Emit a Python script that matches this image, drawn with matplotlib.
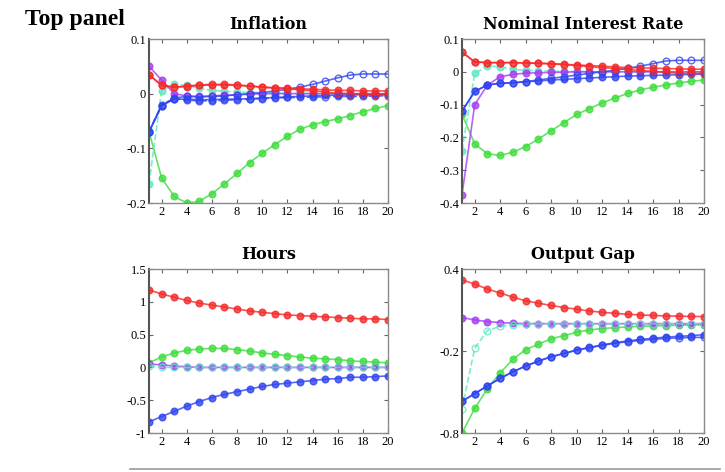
import matplotlib
matplotlib.use("Agg")
import matplotlib.pyplot as plt
import numpy as np

periods = list(range(1, 21))
xticks = [2, 4, 6, 8, 10, 12, 14, 16, 18, 20]

# ---------------- Inflation ----------------
infl_red = [0.035, 0.015, 0.012, 0.013, 0.015, 0.016, 0.016, 0.015, 0.014, 0.012,
            0.011, 0.010, 0.009, 0.008, 0.007, 0.006, 0.006, 0.005, 0.005, 0.005]
infl_red_open = [0.035, 0.015, 0.012, 0.014, 0.016, 0.017, 0.017, 0.016, 0.014, 0.012,
                 0.010, 0.009, 0.007, 0.005, 0.003, 0.001, 0.000, -0.001, -0.002, -0.002]
infl_purple = [0.050, 0.025, 0.000, -0.004, -0.005, -0.004, -0.003, -0.002, -0.001, 0.000,
               0.000, 0.000, 0.000, 0.000, 0.000, 0.000, 0.000, 0.000, 0.000, 0.000]
infl_cyan = [-0.165, 0.005, 0.018, 0.015, 0.010, 0.006, 0.004, 0.003, 0.002, 0.002,
             0.001, 0.001, 0.001, 0.000, 0.000, 0.000, 0.000, 0.000, 0.000, 0.000]
infl_green = [-0.069, -0.154, -0.188, -0.200, -0.197, -0.183, -0.165, -0.146, -0.126, -0.109,
              -0.093, -0.078, -0.065, -0.057, -0.051, -0.046, -0.040, -0.033, -0.027, -0.022]
infl_blue = [-0.070, -0.022, -0.010, -0.010, -0.011, -0.011, -0.010, -0.010, -0.009, -0.008,
             -0.007, -0.006, -0.005, -0.004, -0.003, -0.003, -0.002, -0.002, -0.002, -0.001]
infl_blue_open = [-0.070, -0.022, -0.008, -0.005, -0.006, -0.005, -0.004, -0.002, 0.000, 0.002,
                  0.005, 0.008, 0.012, 0.017, 0.023, 0.029, 0.034, 0.036, 0.036, 0.036]
infl_blue_dash = [-0.070, -0.020, -0.009, -0.012, -0.013, -0.013, -0.012, -0.011, -0.010, -0.009,
                  -0.008, -0.007, -0.007, -0.006, -0.006, -0.005, -0.005, -0.005, -0.004, -0.004]

# ---------------- Nominal Interest Rate ----------------
nir_red = [0.060, 0.030, 0.028, 0.028, 0.028, 0.027, 0.026, 0.025, 0.023, 0.021,
           0.019, 0.017, 0.015, 0.013, 0.012, 0.011, 0.010, 0.009, 0.008, 0.008]
nir_red_open = [0.060, 0.030, 0.028, 0.028, 0.028, 0.027, 0.026, 0.024, 0.022, 0.019,
                0.016, 0.013, 0.010, 0.007, 0.004, 0.001, -0.002, -0.004, -0.005, -0.005]
nir_purple = [-0.375, -0.100, -0.040, -0.015, -0.008, -0.004, -0.003, -0.002, -0.001, 0.000,
              0.000, 0.000, 0.000, 0.000, 0.000, 0.000, 0.000, 0.000, 0.000, 0.000]
nir_cyan = [-0.240, -0.005, 0.018, 0.015, 0.008, 0.004, 0.003, 0.002, 0.001, 0.001,
            0.000, 0.000, 0.000, 0.000, 0.000, 0.000, 0.000, 0.000, 0.000, 0.000]
nir_green = [-0.130, -0.220, -0.250, -0.255, -0.245, -0.228, -0.205, -0.180, -0.155, -0.130,
             -0.112, -0.095, -0.080, -0.066, -0.055, -0.047, -0.040, -0.034, -0.029, -0.025]
nir_blue = [-0.120, -0.060, -0.040, -0.035, -0.033, -0.030, -0.028, -0.025, -0.023, -0.021,
            -0.019, -0.017, -0.015, -0.013, -0.012, -0.011, -0.010, -0.009, -0.008, -0.007]
nir_blue_open = [-0.120, -0.060, -0.040, -0.035, -0.034, -0.030, -0.025, -0.020, -0.015, -0.010,
                 -0.005, 0.000, 0.005, 0.011, 0.017, 0.025, 0.033, 0.035, 0.035, 0.035]

# ---------------- Hours ----------------
hrs_red = [1.18, 1.12, 1.07, 1.02, 0.98, 0.95, 0.92, 0.89, 0.86, 0.84,
           0.82, 0.80, 0.79, 0.78, 0.77, 0.76, 0.75, 0.74, 0.74, 0.73]
hrs_green = [0.07, 0.16, 0.22, 0.26, 0.28, 0.29, 0.29, 0.27, 0.25, 0.22,
             0.20, 0.18, 0.16, 0.14, 0.13, 0.12, 0.10, 0.09, 0.08, 0.07]
hrs_purple = [0.05, 0.04, 0.02, 0.01, 0.00, 0.00, 0.00, 0.00, 0.00, 0.00,
              0.00, 0.00, 0.00, 0.00, 0.00, 0.00, 0.00, 0.00, 0.00, 0.00]
hrs_cyan = [0.02, 0.00, 0.00, 0.00, 0.00, 0.00, 0.00, 0.00, 0.00, 0.00,
            0.00, 0.00, 0.00, 0.00, 0.00, 0.00, 0.00, 0.00, 0.00, 0.00]
hrs_blue = [-0.83, -0.75, -0.67, -0.59, -0.52, -0.46, -0.41, -0.37, -0.33, -0.29,
            -0.26, -0.24, -0.22, -0.20, -0.18, -0.17, -0.15, -0.15, -0.14, -0.13]

# ---------------- Output Gap ----------------
gap_red = [0.320, 0.290, 0.253, 0.224, 0.194, 0.167, 0.150, 0.133, 0.118, 0.106,
           0.093, 0.083, 0.076, 0.069, 0.064, 0.060, 0.057, 0.055, 0.053, 0.052]
gap_purple = [0.045, 0.027, 0.015, 0.008, 0.003, 0.001, 0.000, 0.000, 0.000, 0.000,
              0.000, 0.000, 0.000, 0.000, 0.000, 0.000, 0.000, 0.000, 0.000, 0.000]
gap_cyan = [-0.622, -0.180, -0.050, -0.020, -0.008, -0.003, -0.001, 0.000, 0.000, 0.000,
            0.000, 0.000, 0.000, 0.000, 0.000, 0.000, 0.000, 0.000, 0.000, 0.000]
gap_green = [-0.800, -0.620, -0.475, -0.360, -0.260, -0.190, -0.150, -0.110, -0.088, -0.063,
             -0.046, -0.036, -0.029, -0.024, -0.019, -0.016, -0.014, -0.011, -0.009, -0.008]
gap_blue = [-0.568, -0.512, -0.455, -0.400, -0.352, -0.310, -0.274, -0.242, -0.218, -0.193,
            -0.174, -0.156, -0.139, -0.127, -0.115, -0.107, -0.098, -0.093, -0.088, -0.080]
gap_blue_open = [-0.568, -0.512, -0.455, -0.400, -0.352, -0.310, -0.274, -0.242, -0.218, -0.194,
                 -0.176, -0.159, -0.143, -0.132, -0.122, -0.115, -0.108, -0.104, -0.101, -0.100]

titles = ["Inflation", "Nominal Interest Rate", "Hours", "Output Gap"]
ylims = [(-0.2, 0.1), (-0.4, 0.1), (-1, 1.5), (-0.8, 0.4)]
yticks = [[-0.2, -0.1, 0, 0.1],
          [-0.4, -0.3, -0.2, -0.1, 0, 0.1],
          [-1, -0.5, 0, 0.5, 1, 1.5],
          [-0.8, -0.2, 0.4]]
ytick_labels = [["-0.2", "-0.1", "0", "0.1"],
                ["-0.4", "-0.3", "-0.2", "-0.1", "0", "0.1"],
                ["-1", "-0.5", "0", "0.5", "1", "1.5"],
                ["-0.8", "-0.2", "0.4"]]

RED = "#f52a2a"
GREEN = "#3fdc3f"
BLUE = "#2f44f0"
PURPLE = "#a53cf0"
CYAN = "#5ee8c0"

# (data, color, linestyle, filled)
panels = [
    [(infl_green, GREEN, "-", True), (infl_cyan, CYAN, "--", True),
     (infl_purple, PURPLE, "-", True), (infl_blue_dash, BLUE, "--", False),
     (infl_blue, BLUE, "-", True), (infl_blue_open, BLUE, "-", False),
     (infl_red_open, RED, "-", False), (infl_red, RED, "-", True)],
    [(nir_green, GREEN, "-", True), (nir_cyan, CYAN, "--", True),
     (nir_purple, PURPLE, "-", True), (nir_blue, BLUE, "-", True),
     (nir_blue_open, BLUE, "-", False), (nir_red_open, RED, "-", False),
     (nir_red, RED, "-", True)],
    [(hrs_green, GREEN, "-", True), (hrs_purple, PURPLE, "-", True),
     (hrs_cyan, CYAN, "--", False), (hrs_blue, BLUE, "-", True),
     (hrs_red, RED, "-", True)],
    [(gap_green, GREEN, "-", True), (gap_purple, PURPLE, "-", True),
     (gap_cyan, CYAN, "--", False), (gap_blue_open, BLUE, "-", False),
     (gap_blue, BLUE, "-", True), (gap_red, RED, "-", True)],
]

W, H = 725, 472
fig = plt.figure(figsize=(W / 100, H / 100), dpi=100)

def rect(l, t, r, b):
    return [l / W, 1 - b / H, (r - l) / W, (b - t) / H]

rects = [rect(149, 39, 388, 203), rect(462, 39, 704, 203),
         rect(149, 269, 388, 433), rect(462, 269, 704, 433)]

serif = "Liberation Serif"
for i in range(4):
    ax = fig.add_axes(rects[i])
    for data, col, ls, filled in panels[i]:
        ax.plot(periods, data, color=col, linestyle=ls, linewidth=1.2,
                marker="o", markersize=4.8,
                markerfacecolor=col if filled else "none",
                markeredgecolor=col, markeredgewidth=1.0, alpha=0.8)
    ax.set_xlim(1, 20)
    ax.set_ylim(*ylims[i])
    ax.set_xticks(xticks)
    ax.set_xticklabels([str(t) for t in xticks], fontfamily=serif, fontsize=9)
    ax.set_yticks(yticks[i])
    ax.set_yticklabels(ytick_labels[i], fontfamily=serif, fontsize=9)
    ax.tick_params(direction="in", top=True, right=True, length=3,
                   color="#666666", pad=2)
    for s in ax.spines.values():
        s.set_color("#8a8a8a")
        s.set_linewidth(1.0)
    ax.spines["left"].set_color("#555555")
    ax.spines["left"].set_linewidth(1.5)
    ax.set_title(titles[i], fontfamily="DejaVu Serif", fontweight="bold",
                 fontsize=11.5, pad=7)

fig.text(25 / W, 1 - 19 / H, "Top panel", fontfamily="Liberation Serif",
         fontweight="bold", fontsize=17, va="center", ha="left")
fig.add_artist(plt.Line2D([130 / W, 720 / W], [1 - 469 / H, 1 - 469 / H],
                          color="#999999", linewidth=1.2))

fig.savefig("out.png", dpi=100)
